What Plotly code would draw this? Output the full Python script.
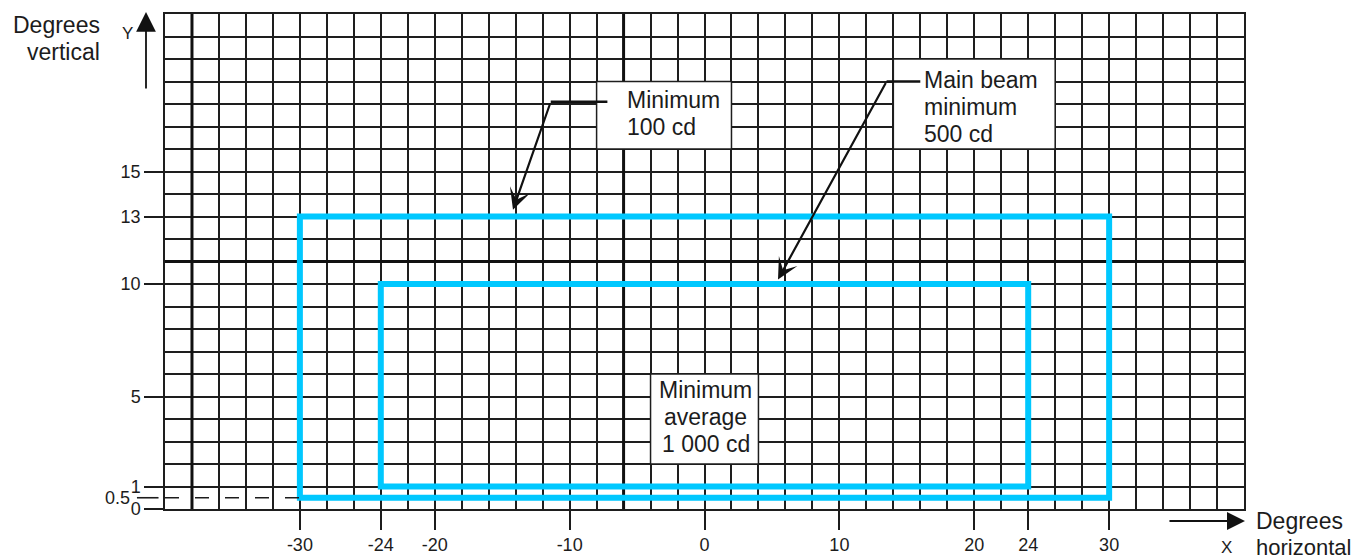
import plotly.graph_objects as go

# ---- axes / ticks ----
x_range = [-40, 40]
y_range = [0, 22]
x_grid_step = 2
y_grid_step = 1
x_tick_vals = [-30, -24, -20, -10, 0, 10, 20, 24, 30]
x_tick_text = ["-30", "-24", "-20", "-10", "0", "10", "20", "24", "30"]
y_tick_vals = [0, 1, 5, 10, 13, 15]
y_tick_text = ["0", "1", "5", "10", "13", "15"]
y_half_vals = [0.5]
y_half_text = ["0.5"]
heavy_x = [-38, -6]
heavy_y = [11]

# ---- zones (degrees) ----
outer_x = [-30, 30]
outer_y = [0.5, 13]
inner_x = [-24, 24]
inner_y = [1, 10]

# ---- label boxes (degrees) ----
box_min100_x = [-8, 2]
box_min100_y = [16, 19]
box_main_x = [14, 26]
box_main_y = [16, 20]
box_avg_x = [-4, 4]
box_avg_y = [2, 6]

# ---- leaders: text end, elbow, arrow tip ----
lead_min100_x = [-7.2, -11.4, -14.2]
lead_min100_y = [18.1, 18.1, 13.3]
lead_main_x = [16.0, 13.5, 5.45]
lead_main_y = [19.0, 19.0, 10.2]

label_min100 = ["Minimum", "100 cd"]
label_main = ["Main beam", "minimum", "500 cd"]
label_avg = ["Minimum", "average", "1 000 cd"]

FONT = "Liberation Sans, Arial, Helvetica, sans-serif"
INK = "#1c1c1c"
BLUE = "#00c8ff"
GRID = "#1e1e1e"
DASH = "14px,16px"

fig = go.Figure()


def rect_path(xs, ys):
    mid = (xs[0] + xs[1]) / 2
    return ([mid, xs[1], xs[1], xs[0], xs[0], mid],
            [ys[0], ys[0], ys[1], ys[1], ys[0], ys[0]])


for xs, ys in [(outer_x, outer_y), (inner_x, inner_y)]:
    px, py = rect_path(xs, ys)
    fig.add_trace(go.Scatter(x=px, y=py, mode="lines",
                             line=dict(color=BLUE, width=6),
                             hoverinfo="skip", showlegend=False))

# dashed guide at 0.5 (on second y axis that carries the 0.5 label)
fig.add_trace(go.Scatter(x=[x_range[0], outer_x[0]], y=[y_half_vals[0]] * 2,
                         mode="lines", yaxis="y2",
                         line=dict(color=INK, width=1.6, dash=DASH),
                         hoverinfo="skip", showlegend=False))

# leader horizontal parts
for lx, ly in [(lead_min100_x, lead_min100_y), (lead_main_x, lead_main_y)]:
    fig.add_trace(go.Scatter(x=lx[:2], y=ly[:2], mode="lines",
                             line=dict(color="#111", width=2.6),
                             hoverinfo="skip", showlegend=False))

shapes = []
for v in heavy_x:
    shapes.append(dict(type="line", xref="x", yref="y", x0=v, x1=v,
                       y0=y_range[0], y1=y_range[1], layer="between",
                       line=dict(color="#111", width=3)))
for v in heavy_y:
    shapes.append(dict(type="line", xref="x", yref="y", x0=x_range[0], x1=x_range[1],
                       y0=v, y1=v, layer="between",
                       line=dict(color="#111", width=3)))
for bx, by in [(box_min100_x, box_min100_y), (box_main_x, box_main_y), (box_avg_x, box_avg_y)]:
    shapes.append(dict(type="rect", xref="x", yref="y", x0=bx[0], x1=bx[1],
                       y0=by[0], y1=by[1], layer="between", fillcolor="white",
                       line=dict(color=GRID, width=1.5)))
# outside part of the 0.5 dashed guide
shapes.append(dict(type="line", xref="x domain", yref="y", x0=-0.026, x1=-0.006,
                   y0=y_half_vals[0], y1=y_half_vals[0], layer="above",
                   line=dict(color=INK, width=1.6)))

annotations = []
# leader arrows
for lx, ly in [(lead_min100_x, lead_min100_y), (lead_main_x, lead_main_y)]:
    annotations.append(dict(x=lx[2], y=ly[2], ax=lx[1], ay=ly[1], axref="x", ayref="y",
                            xref="x", yref="y", text="", showarrow=True,
                            arrowhead=3, arrowsize=1.6, arrowwidth=2.2,
                            arrowcolor="#111", standoff=0))

LINE_PX = 27
for i, t in enumerate(label_min100):
    annotations.append(dict(x=-5.9, y=18.2, xref="x", yref="y", text=t, showarrow=False,
                            xanchor="left", yanchor="middle", yshift=-LINE_PX * i,
                            font=dict(family=FONT, size=23, color=INK)))
for i, t in enumerate(label_main):
    annotations.append(dict(x=16.1, y=19.05, xref="x", yref="y", text=t, showarrow=False,
                            xanchor="left", yanchor="middle", yshift=-LINE_PX * i,
                            font=dict(family=FONT, size=23, color=INK)))
for i, t in enumerate(label_avg):
    annotations.append(dict(x=0.1, y=5.3, xref="x", yref="y", text=t, showarrow=False,
                            xanchor="center", yanchor="middle", yshift=-LINE_PX * i,
                            font=dict(family=FONT, size=23, color=INK)))

# axis titles and arrows (paper space)
annotations += [
    dict(x=-0.0584, y=0.978, xref="paper", yref="paper", text="Degrees", showarrow=False,
         xanchor="right", yanchor="middle", font=dict(family=FONT, size=23, color=INK)),
    dict(x=-0.0584, y=0.923, xref="paper", yref="paper", text="vertical", showarrow=False,
         xanchor="right", yanchor="middle", font=dict(family=FONT, size=23, color=INK)),
    dict(x=-0.0352, y=0.9596, xref="paper", yref="paper", text="Y", showarrow=False,
         xanchor="center", yanchor="middle", font=dict(family=FONT, size=17, color=INK)),
    dict(x=0, y=1.004, xref="paper", yref="paper", xshift=-19, text="", showarrow=True,
         ax=0, ay=78, arrowhead=2, arrowsize=2.2, arrowwidth=1.8, arrowcolor="#111",
         standoff=0),
    dict(x=1.0009, y=-0.0242, xref="paper", yref="paper", text="", showarrow=True,
         ax=-77, ay=0, arrowhead=2, arrowsize=2.0, arrowwidth=1.8, arrowcolor="#111",
         standoff=0),
    dict(x=0.9842, y=-0.0768, xref="paper", yref="paper", text="X", showarrow=False,
         xanchor="center", yanchor="middle", font=dict(family=FONT, size=17, color=INK)),
    dict(x=1.0093, y=-0.0242, xref="paper", yref="paper", text="Degrees", showarrow=False,
         xanchor="left", yanchor="middle", font=dict(family=FONT, size=23, color=INK)),
    dict(x=1.0093, y=-0.0768, xref="paper", yref="paper", text="horizontal", showarrow=False,
         xanchor="left", yanchor="middle", font=dict(family=FONT, size=22, color=INK)),
]

tickfont = dict(family=FONT, size=18, color=INK)
# page body adds an 8px offset; figure is sized so the plot lands where the reference has it
fig.update_layout(
    width=1355, height=552,
    margin=dict(l=157, r=119, t=6, b=51, autoexpand=False),
    paper_bgcolor="white", plot_bgcolor="white",
    showlegend=False,
    shapes=shapes, annotations=annotations,
    xaxis=dict(range=x_range, tickvals=x_tick_vals, ticktext=x_tick_text,
               ticks="outside", ticklen=19, tickwidth=1.5, tickcolor=INK,
               tickfont=tickfont, showgrid=True, gridcolor=GRID, gridwidth=1.5,
               minor=dict(dtick=x_grid_step, tick0=0, showgrid=True,
                          gridcolor=GRID, gridwidth=1.5, ticks=""),
               zeroline=False, showline=True, mirror=True, linecolor=GRID, linewidth=1.5,
               automargin=False, fixedrange=True),
    yaxis=dict(range=y_range, tickvals=y_tick_vals, ticktext=y_tick_text,
               ticks="outside", ticklen=19, tickwidth=1.5, tickcolor=INK,
               tickfont=tickfont, showgrid=True, gridcolor=GRID, gridwidth=1.5,
               minor=dict(dtick=y_grid_step, tick0=0, showgrid=True,
                          gridcolor=GRID, gridwidth=1.5, ticks=""),
               zeroline=False, showline=True, mirror=True, linecolor=GRID, linewidth=1.5,
               automargin=False, fixedrange=True),
    yaxis2=dict(range=y_range, overlaying="y", side="left", tickvals=y_half_vals,
                ticktext=y_half_text, ticks="", tickfont=tickfont, ticklabelstandoff=34,
                showgrid=False, zeroline=False, showline=False, automargin=False,
                fixedrange=True),
)

fig.write_html("out.html")
